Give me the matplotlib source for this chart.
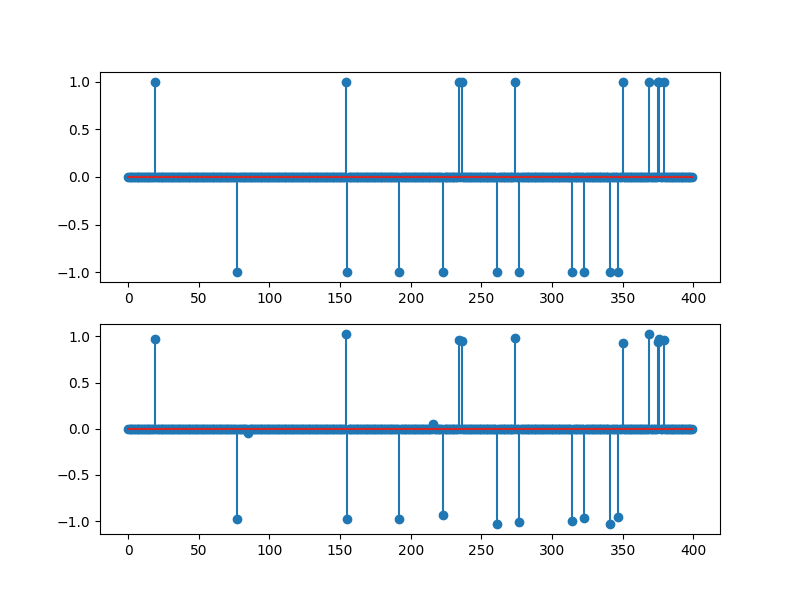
import matplotlib
matplotlib.use("Agg")
import matplotlib.pyplot as plt
import numpy as np

n = 400

# original sparse signal: index -> value
true_idx = [19, 77, 154, 155, 192, 223, 234, 236, 261, 274, 277,
            314, 323, 341, 347, 350, 369, 375, 376, 379]
true_val = [1, -1, 1, -1, -1, -1, 1, 1, -1, 1, -1,
            -1, -1, -1, -1, 1, 1, 1, 1, 1]

# recovered signal: same support plus two small spurious entries
rec_idx = [19, 77, 85, 154, 155, 192, 216, 223, 234, 236, 261, 274, 277,
           314, 323, 341, 347, 350, 369, 375, 376, 379]
rec_val = [0.97, -0.975, -0.05, 1.02, -0.98, -0.975, 0.055, -0.93, 0.96, 0.95,
           -1.035, 0.98, -1.005, -0.995, -0.97, -1.035, -0.95, 0.93, 1.03,
           0.94, 0.975, 0.955]

x = np.zeros(n)
x[true_idx] = true_val
x_rec = np.zeros(n)
x_rec[rec_idx] = rec_val

fig = plt.figure(figsize=(8, 6), dpi=100)
ax1 = fig.add_subplot(211)
ax1.stem(x)
ax2 = fig.add_subplot(212)
ax2.stem(x_rec)
fig.savefig("out.png")
